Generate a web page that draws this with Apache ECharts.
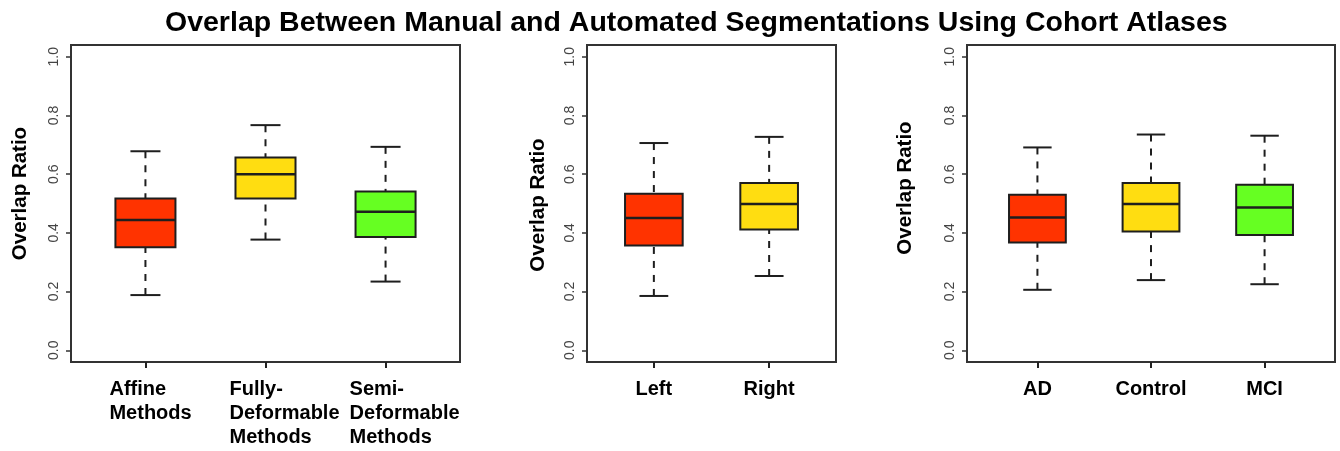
<!DOCTYPE html>
<html>
<head>
<meta charset="utf-8">
<script src="https://cdn.jsdelivr.net/npm/echarts@6/dist/echarts.min.js"></script>
<style>html,body{margin:0;padding:0;background:#fff;}#c{width:1340px;height:451px;}</style>
</head>
<body>
<div id="c"></div>
<script>
// ---- data: [lower whisker, Q1, median, Q3, upper whisker] ----
const titleText = 'Overlap Between Manual and Automated Segmentations Using Cohort Atlases';
const yAxisTitle = 'Overlap Ratio';
const yTicks = [0, 0.2, 0.4, 0.6, 0.8, 1.0];

const methodCats = ['Affine\nMethods', 'Fully-\nDeformable\nMethods', 'Semi-\nDeformable\nMethods'];
const methodStats = [
  [0.188, 0.351, 0.444, 0.517, 0.678],
  [0.377, 0.517, 0.600, 0.657, 0.767],
  [0.234, 0.386, 0.472, 0.541, 0.693]
];

const sideCats = ['Left', 'Right'];
const sideStats = [
  [0.185, 0.357, 0.451, 0.533, 0.706],
  [0.253, 0.411, 0.498, 0.570, 0.727]
];

const cohortCats = ['AD', 'Control', 'MCI'];
const cohortStats = [
  [0.206, 0.367, 0.452, 0.530, 0.691],
  [0.239, 0.405, 0.498, 0.570, 0.735],
  [0.225, 0.393, 0.486, 0.564, 0.731]
];

const boxColors = ['#FF3300', '#FFDD11', '#66FF22'];

// ---- chart ----
const FONT = '"Liberation Sans", Arial, Helvetica, sans-serif';
const chart = echarts.init(document.getElementById('c'), null, {renderer: 'canvas'});

function toData(stats) {
  return stats.map((s, i) => [i + 1].concat(s));
}

function renderBox(params, api) {
  const x = api.value(0);
  const lo = api.coord([x, api.value(1)]);
  const q1 = api.coord([x, api.value(2)]);
  const md = api.coord([x, api.value(3)]);
  const q3 = api.coord([x, api.value(4)]);
  const hi = api.coord([x, api.value(5)]);
  const half = api.size([0.25, 0])[0];
  const cap = api.size([0.125, 0])[0];
  const cx = lo[0];
  const stroke = '#1e1e1e';
  const wStyle = {stroke: stroke, lineWidth: 2, lineDash: [7, 7]};
  const sStyle = {stroke: stroke, lineWidth: 2};
  return {
    type: 'group',
    children: [
      {type: 'line', shape: {x1: cx, y1: hi[1], x2: cx, y2: q3[1]}, style: wStyle},
      {type: 'line', shape: {x1: cx, y1: lo[1], x2: cx, y2: q1[1]}, style: wStyle},
      {type: 'line', shape: {x1: cx - cap, y1: hi[1], x2: cx + cap, y2: hi[1]}, style: sStyle},
      {type: 'line', shape: {x1: cx - cap, y1: lo[1], x2: cx + cap, y2: lo[1]}, style: sStyle},
      {type: 'rect', shape: {x: cx - half, y: q3[1], width: 2 * half, height: q1[1] - q3[1]},
        style: {fill: boxColors[params.dataIndex], stroke: stroke, lineWidth: 2}},
      {type: 'line', shape: {x1: cx - half, y1: md[1], x2: cx + half, y2: md[1]}, style: {stroke: stroke, lineWidth: 2.5}}
    ]
  };
}

const grids = [
  {left: 71, top: 45, width: 389, height: 317},
  {left: 587, top: 45, width: 249, height: 317},
  {left: 967, top: 45, width: 368, height: 317}
];
const panels = [
  {cats: methodCats, stats: methodStats, nameGap: 40, namePad: [0, 0, 0, 20], multi: true},
  {cats: sideCats, stats: sideStats, nameGap: 38, namePad: [0, 3, 0, 0], multi: false},
  {cats: cohortCats, stats: cohortStats, nameGap: 51, namePad: [0, 0, 0, 31], multi: false}
];

const xAxes = [], yAxes = [], series = [];
panels.forEach((p, i) => {
  const n = p.cats.length;
  const pad = 0.04 * n;
  const ticks = p.cats.map((c, k) => k + 1);
  const labelCfg = {
    customValues: ticks,
    margin: 15,
    color: '#000',
    fontFamily: FONT,
    fontSize: 20,
    fontWeight: 'bold',
    lineHeight: 24,
    formatter: function (v) {
      const s = p.cats[Math.round(v) - 1];
      if (!p.multi) return s;
      return s.split('\n').map(l => '{a|' + l + '}').join('\n');
    }
  };
  if (p.multi) {
    labelCfg.width = 72;
    labelCfg.align = 'center';
    labelCfg.rich = {a: {align: 'left', fontFamily: FONT, fontSize: 20, fontWeight: 'bold', lineHeight: 24, color: '#000'}};
  }
  xAxes.push({
    gridIndex: i, type: 'value', min: 0.5 - pad, max: n + 0.5 + pad, position: 'bottom',
    axisLine: {show: false, onZero: false},
    axisTick: {show: true, customValues: ticks, length: 6, lineStyle: {color: '#222', width: 2}},
    axisLabel: labelCfg,
    splitLine: {show: false}
  });
  yAxes.push({
    gridIndex: i, type: 'value', min: -0.04, max: 1.04, position: 'left',
    name: yAxisTitle, nameLocation: 'middle', nameGap: p.nameGap,
    nameTextStyle: {fontFamily: FONT, fontSize: 20.5, fontWeight: 'bold', color: '#000', padding: p.namePad},
    axisLine: {show: false, onZero: false},
    axisTick: {show: true, customValues: yTicks, length: 5, lineStyle: {color: '#333', width: 1.5}},
    axisLabel: {customValues: yTicks, rotate: 90, margin: 10, fontFamily: FONT, fontSize: 14, color: '#444',
      formatter: v => v.toFixed(1)},
    splitLine: {show: false}
  });
  series.push({
    type: 'custom', xAxisIndex: i, yAxisIndex: i,
    renderItem: renderBox,
    encode: {x: 0, y: [1, 2, 3, 4, 5]},
    data: toData(p.stats),
    silent: true
  });
});

chart.setOption({
  backgroundColor: '#fff',
  animation: false,
  title: {text: titleText, left: 160, top: 4,
    textStyle: {fontFamily: FONT, fontSize: 28.5, fontWeight: 'bold', color: '#000'}},
  grid: grids.map(g => Object.assign({show: true, borderColor: '#333', borderWidth: 2, backgroundColor: 'transparent', containLabel: false}, g)),
  xAxis: xAxes,
  yAxis: yAxes,
  series: series
});
</script>
</body>
</html>
